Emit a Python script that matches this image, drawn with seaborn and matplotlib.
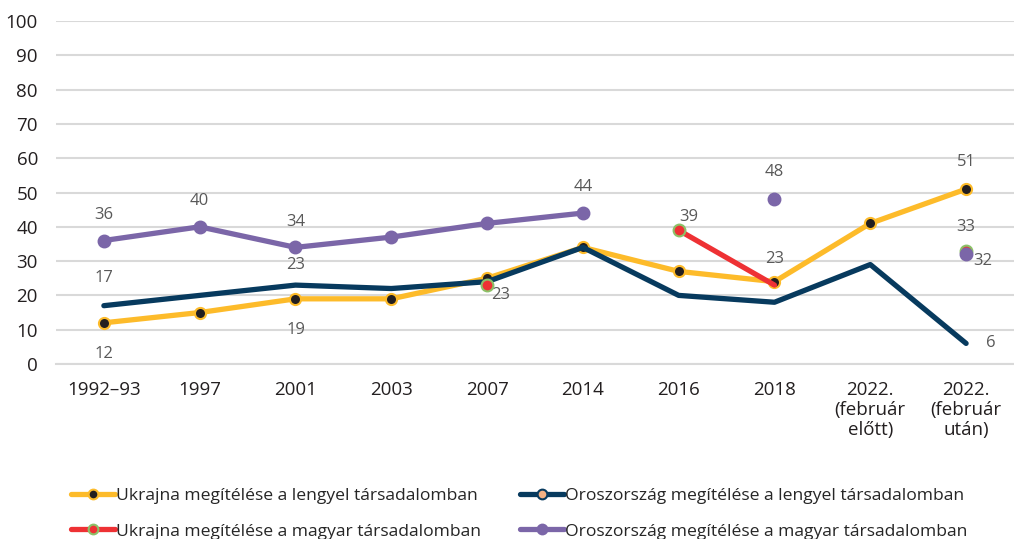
import numpy as np
import pandas as pd
import matplotlib.pyplot as plt
import seaborn as sns
from matplotlib.lines import Line2D

categories = ['1992–93', '1997', '2001', '2003', '2007', '2014', '2016', '2018',
              '2022.\n(február\nelőtt)', '2022.\n(február\nután)']

ukr_pl = [12, 15, 19, 19, 25, 34, 27, 24, 41, 51]
rus_pl = [17, 20, 23, 22, 24, 34, 20, 18, 29, 6]
ukr_hu = [np.nan, np.nan, np.nan, np.nan, 23, np.nan, 39, 23, np.nan, 33]
rus_hu = [36, 40, 34, 37, 41, 44, np.nan, 48, np.nan, 32]

names = ['Ukrajna megítélése a lengyel társadalomban',
         'Oroszország megítélése a lengyel társadalomban',
         'Ukrajna megítélése a magyar társadalomban',
         'Oroszország megítélése a magyar társadalomban']

sns.set_style('white')
plt.rcParams['font.family'] = ['Open Sans', 'DejaVu Sans']

fig = plt.figure(figsize=(10.14, 5.39), dpi=100)
ax = fig.add_axes([0.0552, 0.3247, 0.9448, 0.6363])

styles = [
    dict(color='#fdbb2a', marker='o', mfc='#231f20', mec='#fdbb2a', ms=8, every=None),
    dict(color='#073a5e', marker=None, mfc='#f4b183', mec='#073a5e', ms=8, every=None),
    dict(color='#ee3134', marker='o', mfc='#ee3134', mec='#8cc168', ms=8.5, every=[0]),
    dict(color='#7b66a8', marker='o', mfc='#7b66a8', mec='#7b66a8', ms=8.5, every=None),
]


def segments(vals):
    df = pd.DataFrame({'x': np.arange(len(vals)), 'y': vals})
    df['seg'] = df['y'].isna().cumsum()
    return df.dropna()


for vals, st in zip([ukr_pl, rus_pl, ukr_hu, rus_hu], styles):
    df = segments(vals)
    for _, part in df.groupby('seg'):
        if len(part) > 1:
            sns.lineplot(data=part, x='x', y='y', ax=ax, color=st['color'], lw=3.8,
                         solid_capstyle='round', marker=st['marker'],
                         markevery=st['every'],
                         markerfacecolor=st['mfc'], markeredgecolor=st['mec'],
                         markeredgewidth=1.5, markersize=st['ms'], zorder=3)
        else:
            ax.plot(part['x'], part['y'], linestyle='none', marker='o',
                    mfc=st['mfc'], mec=st['mec'], mew=1.5, ms=st['ms'], zorder=4)

# data labels: (x index, value, dx, dy)
labels = [
    (0, 12, 0, -9), (2, 19, 0, -9), (9, 51, 0, 8),
    (0, 17, 0, 8), (2, 23, 0, 6), (9, 6, 26, 0),
    (4, 23, 14, -3), (6, 39, 11, 4), (7, 23, 0, 7.5), (9, 33, 0, 7),
    (0, 36, 0, 7.5), (1, 40, 0, 7.5), (2, 34, 0, 7.5), (5, 44, 0, 7.5),
    (7, 48, 0, 8), (9, 32, 17, -2),
]
for x, v, dx, dy in labels:
    ax.text(x + dx / 100, v + dy, str(v), ha='center', va='center',
            fontsize=12, color='#595959')

ax.set_xlim(-0.5, 9.5)
ax.set_ylim(0, 100)
ax.set_yticks(range(0, 101, 10))
ax.set_xticks(range(len(categories)))
ax.set_xticklabels(categories, fontsize=13.5, color='#231f20', linespacing=1.15)
ax.tick_params(axis='y', labelsize=13.5, labelcolor='#231f20', length=0, pad=13)
ax.tick_params(axis='x', length=0, pad=12)
ax.grid(axis='y', color='#d9d9d9', lw=1.5)
ax.set_axisbelow(True)
ax.set_xlabel('')
ax.set_ylabel('')
sns.despine(ax=ax, left=True, bottom=True)
ax.spines['bottom'].set_visible(True)
ax.spines['bottom'].set_color('#d9d9d9')
ax.spines['bottom'].set_linewidth(1.5)

handles = [Line2D([0], [0], color=st['color'], lw=3.8, marker='o', mfc=st['mfc'],
                  mec=st['mec'], mew=1.5, ms=7, solid_capstyle='round')
           for st in styles]
order = [0, 2, 1, 3]
fig.legend([handles[i] for i in order], [names[i] for i in order], loc='upper left',
           bbox_to_anchor=(0.07, 0.095), ncol=2, frameon=False, fontsize=12.6,
           handlelength=2.5, handletextpad=0.1, columnspacing=2.2,
           labelspacing=1.1, borderaxespad=0, borderpad=0)

fig.savefig('out.png', dpi=100)
